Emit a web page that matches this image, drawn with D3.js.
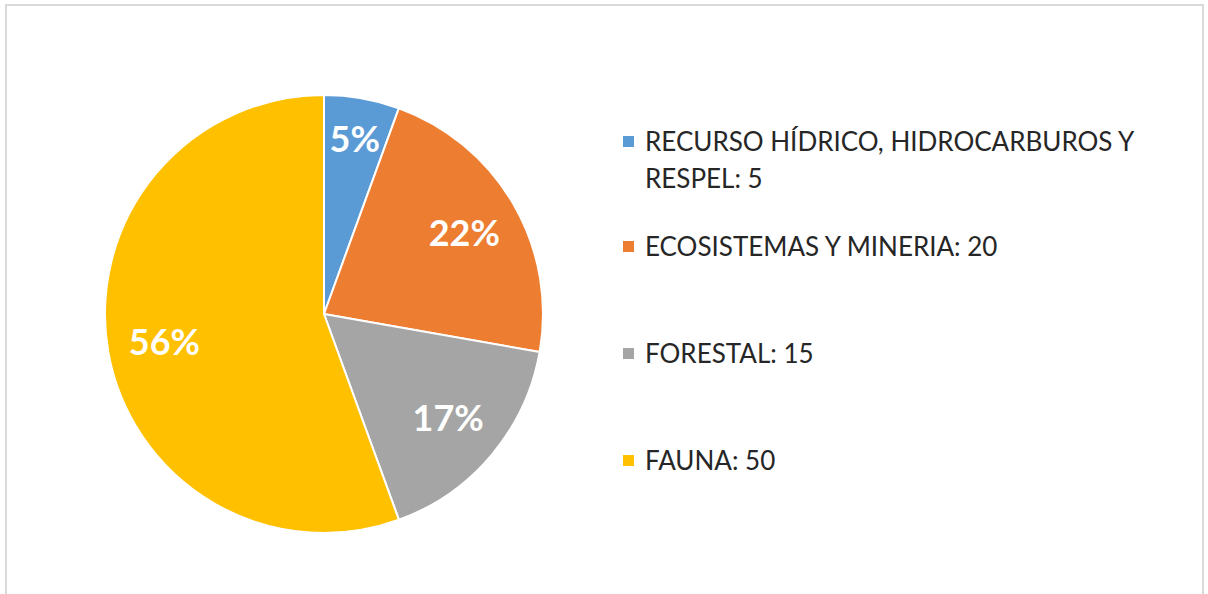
<!DOCTYPE html>
<html>
<head>
<meta charset="utf-8">
<script src="https://cdn.jsdelivr.net/npm/d3@7"></script>
<style>
  body { margin: 0; background: #fff; }
  text { font-family: Lato, "Open Sans", sans-serif; }
</style>
</head>
<body>
<svg id="chart" width="1208" height="594"></svg>
<script>
// data
var categories = ["RECURSO HÍDRICO, HIDROCARBUROS Y RESPEL", "ECOSISTEMAS Y MINERIA", "FORESTAL", "FAUNA"];
var values = [5, 20, 15, 50];
var pctLabels = ["5%", "22%", "17%", "56%"];
var colors = ["#5B9BD5", "#ED7D31", "#A5A5A5", "#FFC000"];

var svg = d3.select("#chart");

// chart frame (bottom edge runs off the picture)
svg.append("rect")
    .attr("x", 6).attr("y", 5)
    .attr("width", 1197).attr("height", 620)
    .attr("fill", "#fff")
    .attr("stroke", "#d9d9d9")
    .attr("stroke-width", 2);

var cx = 324, cy = 314, radius = 219;

var data = categories.map(function(c, i) {
    return {name: c, value: values[i], pct: pctLabels[i], color: colors[i]};
});

var pie = d3.pie().sort(null).value(function(d) { return d.value; });
var arcs = pie(data);

var arc = d3.arc().innerRadius(0).outerRadius(radius);

var g = svg.append("g").attr("transform", "translate(" + cx + "," + cy + ")");

g.selectAll("path")
    .data(arcs)
    .enter().append("path")
    .attr("d", arc)
    .attr("fill", function(d) { return d.data.color; })
    .attr("stroke", "#fff")
    .attr("stroke-width", 2)
    .attr("stroke-linejoin", "round");

// small slices get their label pushed outward a bit
var labels = svg.append("g").attr("class", "pct-labels");
arcs.forEach(function(d) {
    var span = d.endAngle - d.startAngle;
    var r = span < 0.5 ? radius * 0.81 : radius * 0.74;
    var a = (d.startAngle + d.endAngle) / 2;
    labels.append("text")
        .attr("x", cx + Math.sin(a) * r)
        .attr("y", cy - Math.cos(a) * r)
        .attr("text-anchor", "middle")
        .attr("dy", "0.36em")
        .style("fill", "#ffffff")
        .style("font-weight", "bold")
        .style("font-size", "36px")
        .text(d.data.pct);
});

// legend
var legendRows = [
    {lines: ["RECURSO HÍDRICO, HIDROCARBUROS Y", "RESPEL: " + values[0]], y: 151},
    {lines: ["ECOSISTEMAS Y MINERIA: " + values[1]], y: 256},
    {lines: ["FORESTAL: " + values[2]], y: 363},
    {lines: ["FAUNA: " + values[3]], y: 470}
];

var legend = svg.append("g").attr("class", "legend");

legendRows.forEach(function(row, i) {
    legend.append("rect")
        .attr("x", 623)
        .attr("y", row.y - 15)
        .attr("width", 11)
        .attr("height", 11)
        .attr("fill", colors[i]);
    row.lines.forEach(function(line, j) {
        legend.append("text")
            .attr("x", 645)
            .attr("y", row.y + j * 37)
            .attr("font-size", 26)
            .attr("fill", "#262626")
            .text(line);
    });
});
</script>
</body>
</html>
